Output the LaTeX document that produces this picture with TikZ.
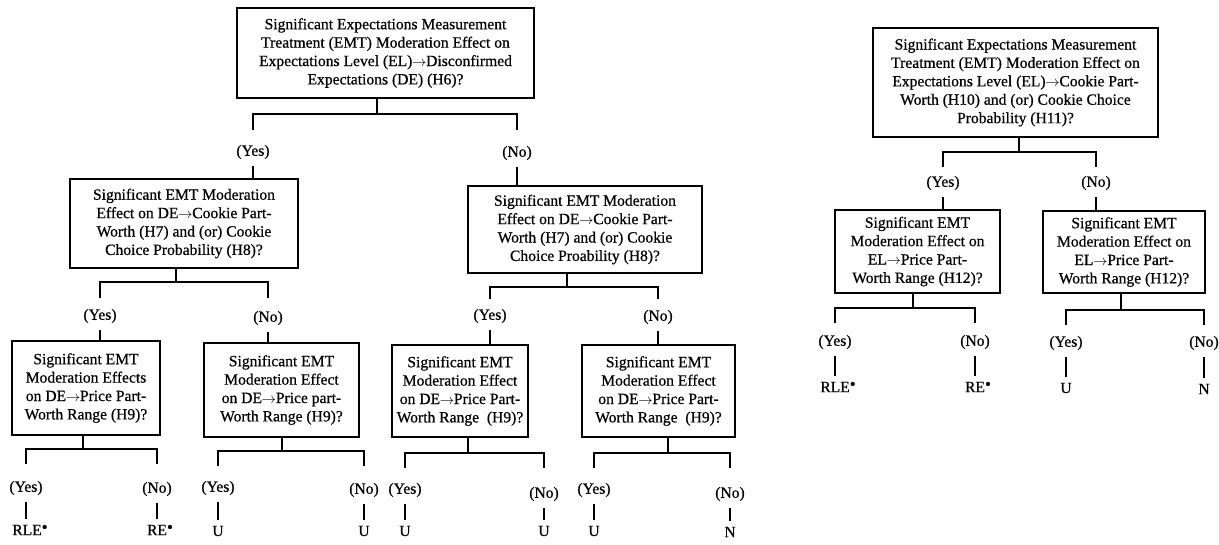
\documentclass[tikz,border=0pt]{standalone}
\usepackage{fontspec}
\setmainfont{Liberation Serif}[FakeBold=0.6]
\usetikzlibrary{calc}
\newcommand{\fsz}{\fontsize{15.6}{18.4}\selectfont}
\newcommand{\dotmark}{\raisebox{0.35ex}{\fontsize{17}{17}\selectfont •}}
\newcommand{\arr}{\kern-0.3pt$\rightarrow$\kern-0.3pt}
\begin{document}
\begin{tikzpicture}[x=1pt,y=-1pt,
  qbox/.style={draw,line width=1.1pt,align=center,inner sep=0pt,font=\fsz},
  lbl/.style={inner sep=1pt,font=\fsz},
  conn/.style={line width=1.1pt},
  tick/.style={line width=1.1pt,shorten <=6pt}]
\useasboundingbox (0,0) rectangle (1219,544);

% ---------- left tree ----------
\node[qbox,minimum width=297pt,minimum height=90pt] (R1) at (385.5,53)
 {Significant Expectations Measurement\\Treatment (EMT) Moderation Effect on\\Expectations Level (EL)\arr Disconfirmed\\Expectations (DE) (H6)?};
\node[qbox,minimum width=228pt,minimum height=89pt] (L2a) at (184,223.5)
 {Significant EMT Moderation\\Effect on DE\arr Cookie Part-\\Worth (H7) and (or) Cookie\\Choice Probability (H8)?};
\node[qbox,minimum width=234pt,minimum height=87pt] (L2b) at (585,229.5)
 {Significant EMT Moderation\\Effect on DE\arr Cookie Part-\\Worth (H7) and (or) Cookie\\Choice Proability (H8)?};
\node[qbox,minimum width=148pt,minimum height=94pt] (L3a) at (86,388)
 {Significant EMT\\Moderation Effects\\on DE\arr Price Part-\\Worth Range (H9)?};
\node[qbox,minimum width=155pt,minimum height=94pt] (L3b) at (281.5,390)
 {Significant EMT\\Moderation Effect\\on DE\arr Price part-\\Worth Range (H9)?};
\node[qbox,minimum width=136pt,minimum height=92pt] (L3c) at (460,391)
 {Significant EMT\\Moderation Effect\\on DE\arr Price Part-\\Worth Range\ \ (H9)?};
\node[qbox,minimum width=153pt,minimum height=92pt] (L3d) at (658.5,391)
 {Significant EMT\\Moderation Effect\\on DE\arr Price Part-\\Worth Range\ \ (H9)?};

% labels level 1
\node[lbl] (Y1) at (253,152) {(Yes)};
\node[lbl] (N1) at (517,153) {(No)};
% labels level 2
\node[lbl] (Y2) at (100,316) {(Yes)};
\node[lbl] (N2) at (268,318) {(No)};
\node[lbl] (Y3) at (490,316) {(Yes)};
\node[lbl] (N3) at (658,317) {(No)};
% labels level 3
\node[lbl] (Y4) at (26,488) {(Yes)};
\node[lbl] (N4) at (157,489) {(No)};
\node[lbl] (Y5) at (218,488) {(Yes)};
\node[lbl] (N5) at (364,490) {(No)};
\node[lbl] (Y6) at (405,490) {(Yes)};
\node[lbl] (N6) at (544,494) {(No)};
\node[lbl] (Y7) at (594,490) {(Yes)};
\node[lbl] (N7) at (730,494) {(No)};
% leaves
\node[lbl] (E4a) at (30,530) {RLE\dotmark};
\node[lbl] (E4b) at (160,530) {RE\dotmark};
\node[lbl] (E5a) at (218,531) {U};
\node[lbl] (E5b) at (364,531) {U};
\node[lbl] (E6a) at (405,531) {U};
\node[lbl] (E6b) at (544,531) {U};
\node[lbl] (E7a) at (594,531) {U};
\node[lbl] (E7b) at (730,532) {N};

% ---------- right tree ----------
\node[qbox,minimum width=285pt,minimum height=109pt] (RR) at (1015.5,82.5)
 {Significant Expectations Measurement\\Treatment (EMT) Moderation Effect on\\Expectations Level (EL)\arr Cookie Part-\\Worth (H10) and (or) Cookie Choice\\Probability (H11)?};
\node[qbox,minimum width=165pt,minimum height=83pt] (R2a) at (917.5,251.5)
 {Significant EMT\\Moderation Effect on\\EL\arr Price Part-\\Worth Range (H12)?};
\node[qbox,minimum width=162pt,minimum height=82pt] (R2b) at (1124,252)
 {Significant EMT\\Moderation Effect on\\EL\arr Price Part-\\Worth Range (H12)?};

\node[lbl] (Y8) at (943,183) {(Yes)};
\node[lbl] (N8) at (1096,183) {(No)};
\node[lbl] (Y9) at (835,342) {(Yes)};
\node[lbl] (N9) at (975,342) {(No)};
\node[lbl] (Y10) at (1066,343) {(Yes)};
\node[lbl] (N10) at (1204,343) {(No)};
\node[lbl] (E9a) at (838,387) {RLE\dotmark};
\node[lbl] (E9b) at (978,387) {RE\dotmark};
\node[lbl] (E10a) at (1066,388) {U};
\node[lbl] (E10b) at (1204,389) {N};

% ---------- forks ----------
% #1 box, #2 stem x, #3 bar y, #4 yes node, #5 no node, #6 drop length
\newcommand{\fork}[6]{%
  \coordinate (s#1) at (#2,#3);
  \draw[conn] (#1.south -| s#1) -- (s#1);
  \draw[conn] ($(#4.north |- s#1)+(0,#6)$) -- (#4.north |- s#1)
     -- (#5.north |- s#1) -- ++(0,#6);}
\fork{R1}{377}{114}{Y1}{N1}{16}
\fork{L2a}{176}{282}{Y2}{N2}{16}
\fork{L2b}{567}{287}{Y3}{N3}{12}
\fork{L3a}{83}{449}{Y4}{N4}{15}
\fork{L3b}{282}{451}{Y5}{N5}{15}
\fork{L3c}{468}{453}{Y6}{N6}{15}
\fork{L3d}{668}{453}{Y7}{N7}{15}
\fork{RR}{1019}{152}{Y8}{N8}{15}
\fork{R2a}{913}{308}{Y9}{N9}{15}
\fork{R2b}{1121}{310}{Y10}{N10}{15}

% ticks into boxes
\draw[tick] (Y1.south) -- (Y1.south |- L2a.north);
\draw[tick] (N1.south) -- (N1.south |- L2b.north);
\draw[tick] (Y2.south) -- (Y2.south |- L3a.north);
\draw[tick] (N2.south) -- (N2.south |- L3b.north);
\draw[tick] (Y3.south) -- (Y3.south |- L3c.north);
\draw[tick] (N3.south) -- (N3.south |- L3d.north);
\draw[tick] (Y8.south) -- (Y8.south |- R2a.north);
\draw[tick] (N8.south) -- (N8.south |- R2b.north);
% ticks to leaves
\foreach \a/\b in {Y4/E4a,N4/E4b,Y5/E5a,N5/E5b,Y6/E6a,N6/E6b,Y7/E7a,N7/E7b,
                   Y9/E9a,N9/E9b,Y10/E10a,N10/E10b}
  \draw[tick,shorten >=5pt] (\a.south) -- (\a.south |- \b.north);
\end{tikzpicture}
\end{document}
